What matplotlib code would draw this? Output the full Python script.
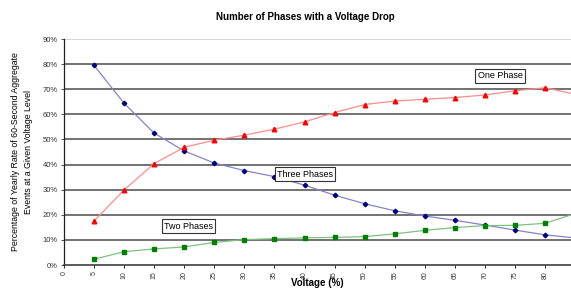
import numpy as np
import matplotlib
matplotlib.use("Agg")
import matplotlib.pyplot as plt
from matplotlib.ticker import PercentFormatter

# ==========================================
# Données
# ==========================================
voltage = [5, 10, 15, 20, 25, 30, 35, 40, 45, 50, 55, 60, 65, 70, 75, 80, 85]

one_phase = [17.5, 29.9, 40.4, 46.9, 49.7, 51.7, 54.1, 57.0, 60.7, 63.9,
             65.3, 66.0, 66.7, 67.7, 69.4, 70.6, 68.0]
two_phases = [2.3, 5.3, 6.4, 7.2, 9.0, 10.1, 10.5, 10.8, 11.0, 11.3,
              12.4, 13.8, 14.9, 15.7, 15.8, 16.6, 20.5]
three_phases = [79.5, 64.4, 52.5, 45.4, 40.6, 37.6, 35.2, 31.8, 27.8, 24.4,
                21.6, 19.5, 17.8, 15.9, 13.9, 12.0, 10.8]

x_ticks = list(range(0, 85, 5))
y_ticks = list(range(0, 100, 10))

# ==========================================
# Figure
# ==========================================
plt.rcParams["font.family"] = ["Liberation Sans", "DejaVu Sans"]

fig = plt.figure(figsize=(5.71, 2.90), dpi=100)
ax = fig.add_axes([0.112, 0.0862, 0.888, 0.7793])

ax.plot(voltage, three_phases, color="#8484c4", lw=0.9, marker="D",
        markersize=2.3, markerfacecolor="#000080", markeredgecolor="#000080", zorder=3)
ax.plot(voltage, one_phase, color="#ff8c8c", lw=0.9, marker="^",
        markersize=3.3, markerfacecolor="#ff0000", markeredgecolor="#ff0000", zorder=3)
ax.plot(voltage, two_phases, color="#80c080", lw=0.9, marker="s",
        markersize=3.2, markerfacecolor="#008000", markeredgecolor="#008000", zorder=3)

ax.set_xlim(0, 84.3)
ax.set_ylim(0, 90)

# grille horizontale
for yv in y_ticks[1:-1]:
    ax.axhline(yv, color="#5a5a5a", lw=1.2, zorder=1)
ax.axhline(90, color="#cfcfcf", lw=1.2, zorder=1)

ax.spines["top"].set_visible(False)
ax.spines["right"].set_visible(False)
ax.spines["left"].set_color("#202020")
ax.spines["bottom"].set_color("#404040")
ax.spines["left"].set_linewidth(0.9)
ax.spines["bottom"].set_linewidth(1.2)

ax.set_xticks(x_ticks)
ax.set_xticklabels([str(v) for v in x_ticks], rotation=90, fontsize=5, color="#333333")
ax.set_yticks(y_ticks)
ax.yaxis.set_major_formatter(PercentFormatter(decimals=0))
ax.tick_params(axis="y", labelsize=5.5, length=2.5, width=0.6, colors="#333333", pad=2)
ax.tick_params(axis="x", length=2.5, width=0.6, pad=2)

ax.set_xlabel("Voltage (%)", fontsize=7, fontweight="bold", va="center")
ax.xaxis.set_label_coords(0.50, -0.08)
ax.set_ylabel("Percentage of Yearly Rate of 60-Second Aggregate\nEvents at a Given Voltage Level",
              fontsize=6.3, linespacing=1.5, labelpad=7)

fig.suptitle("Number of Phases with a Voltage Drop", x=0.535, y=0.96,
             fontsize=7, fontweight="bold")

# étiquettes encadrées
box = dict(boxstyle="square,pad=0.25", facecolor="white", edgecolor="#333333", lw=0.8)
ax.text(72.5, 75.3, "One Phase", fontsize=6.5, ha="center", va="center", bbox=box, zorder=4)
ax.text(40.1, 36.2, "Three Phases", fontsize=6.5, ha="center", va="center", bbox=box, zorder=4)
ax.text(20.7, 15.5, "Two Phases", fontsize=6.5, ha="center", va="center", bbox=box, zorder=4)

fig.savefig("out.png", dpi=100)
